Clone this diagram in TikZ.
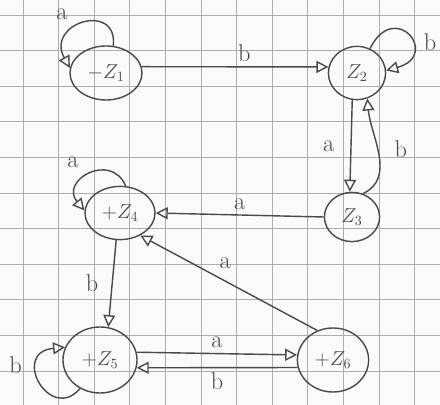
\documentclass[tikz,border=0pt]{standalone}
\usepackage{amsmath}
\usepackage{xcolor}
\usepackage{tikz}
\usetikzlibrary{arrows.meta,shapes.geometric}

\definecolor{pencil}{HTML}{4A4A4A}
\definecolor{paper}{HTML}{FAFAF8}
\definecolor{gridline}{HTML}{ADADAD}

\begin{document}
\begin{tikzpicture}[x=0.025cm,y=-0.025cm,
  state/.style 2 args={draw=pencil,line width=1pt,ellipse,inner sep=0pt,
                       minimum width=#1,minimum height=#2,font=\Large,text=pencil},
  arr/.style={-{Triangle[open,length=3mm,width=3mm]},draw=pencil,line width=1pt},
  lbl/.style={font=\LARGE,text=pencil}
]
% paper and squares
\fill[paper] (0,0) rectangle (440,405);
\useasboundingbox (0,0) rectangle (440,405);
\foreach \gx in {0,...,12}
  \draw[gridline,line width=0.5pt] (23+35.6*\gx,0) -- (23+35.6*\gx,405);
\foreach \gy in {0,...,11}
  \draw[gridline,line width=0.5pt] (0,15+35.6*\gy) -- (440,15+35.6*\gy);

% states
\node[state={18mm}{13.5mm}]   (z1) at (106,73)  {$-Z_1$};
\node[state={14.3mm}{13.3mm}] (z2) at (357,73)  {$Z_2$};
\node[state={13.8mm}{12.3mm}] (z3) at (352,217) {$Z_3$};
\node[state={17.5mm}{13.3mm}] (z4) at (120,213) {$+Z_4$};
\node[state={18.5mm}{16.5mm}] (z5) at (100,360) {$+Z_5$};
\node[state={17.8mm}{16mm}]   (z6) at (333,360) {$+Z_6$};

% transitions
\draw[arr] (z1.75) .. controls +(5,-45) and +(-25,-45) .. (z1.172)
  node[lbl,pos=.6,above left=2pt] {a};
\draw[arr] (z1.10) -- node[lbl,above,pos=.55] {b} (z2.168);
\draw[arr] (z2.62) .. controls +(25,-50) and +(55,-15) .. (z2.5)
  node[lbl,pos=.6,right=5pt] {b};
\draw[arr] (z2.-100) -- node[lbl,left=8pt] {a} (z3.95);
\draw[arr] (z3.65) to[out=25,in=-85] node[lbl,right=8pt,pos=.55] {b} (z2.-68);
\draw[arr] (z3.west) -- node[lbl,above] {a} (z4.east);
\draw[arr] (z4.78) .. controls +(-15,-35) and +(-25,-30) .. (z4.176)
  node[lbl,pos=.55,above left=2pt] {a};
\draw[arr] (z6.118) -- node[lbl,above=5pt,pos=.52] {a} (z4.-48);
\draw[arr] (z4.-98) -- node[lbl,left=6pt] {b} (z5.76);
\draw[arr] (z5.235) .. controls +(-30,35) and +(-55,5) .. (z5.160)
  node[lbl,pos=.7,left=8pt] {b};
\draw[arr] (z5.12) -- node[lbl,above] {a} (z6.172);
\draw[arr] (z6.-168) -- node[lbl,below] {b} (z5.-12);
\end{tikzpicture}
\end{document}
